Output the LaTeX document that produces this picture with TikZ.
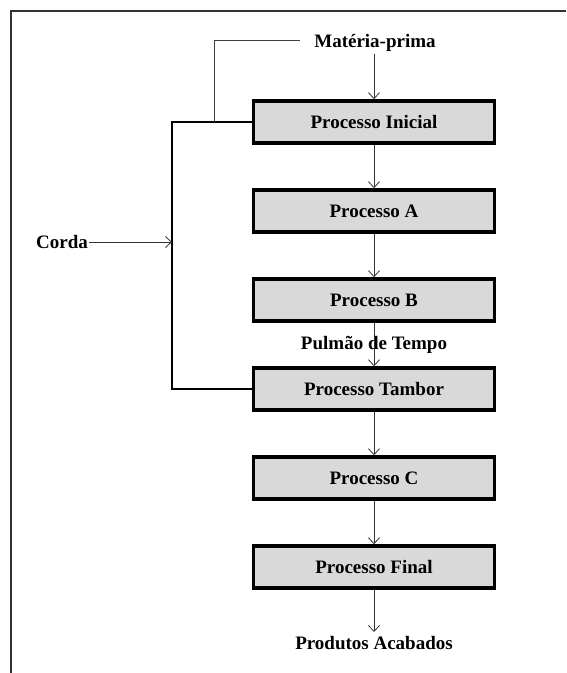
\documentclass[tikz,border=0pt]{standalone}
\usepackage{fontspec}
\setmainfont{Liberation Serif}
\usetikzlibrary{arrows.meta}
\begin{document}
\begin{tikzpicture}[x=1pt,y=-1pt,
  proc/.style={draw=black, line width=3.5pt, fill=gray!30, minimum width=241pt, minimum height=42pt, inner sep=0pt, font=\bfseries\fontsize{19}{21}\selectfont},
  lbl/.style={inner sep=1pt, font=\bfseries\fontsize{19}{21}\selectfont},
  arr/.style={draw=black!80, line width=0.8pt, -{Straight Barb[length=6pt,width=11pt,line width=0.8pt]}},
  thin/.style={draw=black!75, line width=0.9pt},
  rope/.style={draw=black, line width=2pt}]
\useasboundingbox (0,0) rectangle (566,673);
\draw[line width=1.2pt, black!80] (11,673) -- (11,11) -- (566,11);
\node[proc] (ini) at (374,122) {Processo Inicial};
\node[proc] (pa) at (374,211) {Processo A};
\node[proc] (pb) at (374,300) {Processo B};
\node[proc] (tam) at (374,389) {Processo Tambor};
\node[proc] (pc) at (374,478) {Processo C};
\node[proc] (fin) at (374,567) {Processo Final};
\node[lbl] (mp) at (375,43) {Matéria-prima};
\node[lbl] (pa2) at (374,643) {Produtos Acabados};
\node[lbl] (pul) at (374,345) {Pulmão de Tempo};
\node[lbl] (corda) at (62,242) {Corda};
\coordinate (tl) at (172,122);
\coordinate (bl) at (172,389);
\coordinate (cj) at (172,242);
\coordinate (up1) at (214,122);
\coordinate (up2) at (214,40);
\coordinate (up3) at (300,40);
\coordinate (mpa) at (374,54);
\coordinate (pend) at (374,632);
\draw[arr] (mpa) -- (ini.north);
\draw[arr] (ini) -- (pa);
\draw[arr] (pa) -- (pb);
\draw[arr] (pb.south) -- (tam.north);
\draw[arr] (tam) -- (pc);
\draw[arr] (pc) -- (fin);
\draw[arr] (fin.south) -- (pend);
\draw[rope] (ini.west) -- (tl) -- (bl) -- (tam.west);
\draw[thin] (up1) -- (up2) -- (up3);
\draw[arr] (corda.east) -- (cj);
\end{tikzpicture}
\end{document}
